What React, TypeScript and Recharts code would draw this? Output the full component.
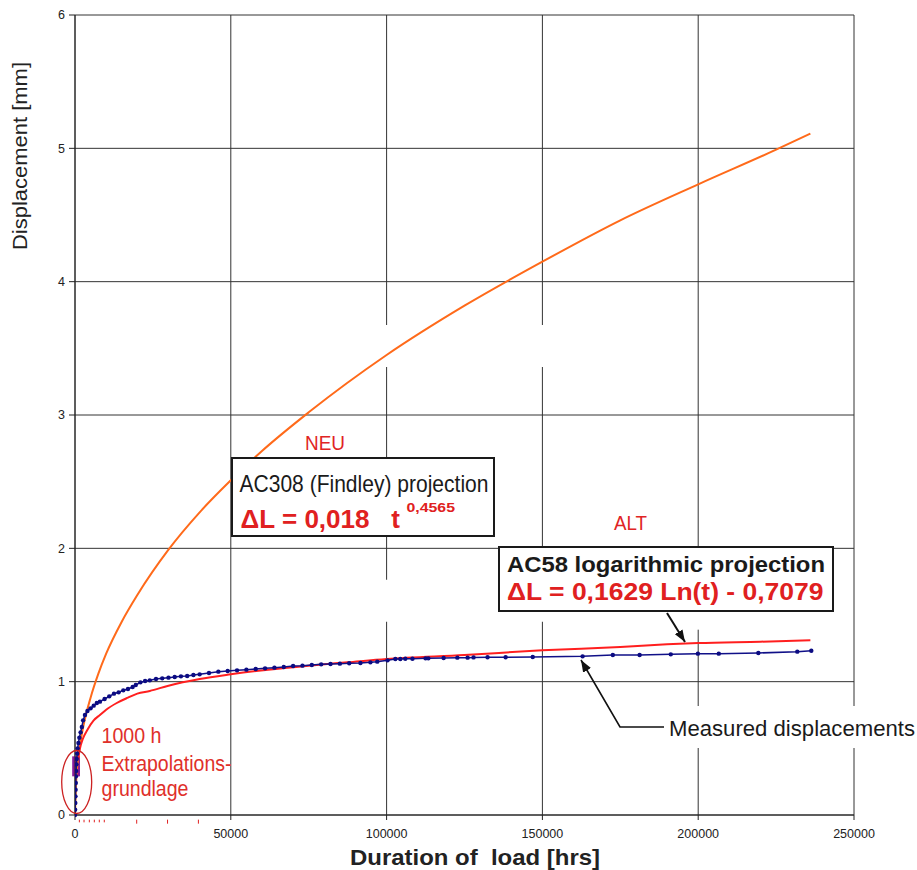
import React from 'react';
import {
  LineChart,
  Line,
  XAxis,
  YAxis,
  CartesianGrid,
  ReferenceArea,
  ReferenceLine
} from 'recharts';

const FONT = '"Liberation Sans", Arial, Helvetica, sans-serif';
const NARROW = '"Liberation Sans Narrow", "Arial Narrow", "Liberation Sans", Arial, sans-serif';

const xTicks = [0, 50000, 100000, 150000, 200000, 250000];
const yTicks = [0, 1, 2, 3, 4, 5, 6];

// AC308 (Findley) projection - orange curve
const findleyHours = [0, 500, 1000, 2000, 3000, 5000, 7500, 10000, 15000, 20000, 30000, 40000, 50000, 60000, 75000, 100000, 125000, 150000, 175000, 200000, 225000, 236000];
const findleyMm = [0, 0.31, 0.42, 0.58, 0.7, 0.88, 1.06, 1.21, 1.45, 1.65, 1.99, 2.27, 2.51, 2.73, 3.02, 3.45, 3.82, 4.15, 4.46, 4.73, 4.99, 5.11];

// AC58 logarithmic projection - red curve
const logHours = [1000, 1600, 2500, 4000, 6000, 8000, 10000, 13400, 17000, 20000, 24000, 30000, 40000, 50000, 62000, 75000, 87500, 100000, 125000, 150000, 175000, 190000, 200000, 220000, 236000];
const logMm = [0.42, 0.5, 0.57, 0.64, 0.71, 0.75, 0.79, 0.84, 0.88, 0.91, 0.93, 0.97, 1.02, 1.055, 1.09, 1.12, 1.145, 1.17, 1.2, 1.235, 1.26, 1.28, 1.29, 1.3, 1.31];

// measured displacements - navy points
const measuredHours = [
  0, 50, 100, 150, 200, 250, 300, 350, 450, 550, 700, 850, 1100, 1400, 1800, 2200, 2600, 3200, 4000, 5000,
  6000, 7000, 8000, 9500, 11000, 12500, 14000, 15500, 17000, 18500, 19500, 21000, 22500, 24000, 26000, 28000,
  30000, 32000, 34000, 36000, 38000, 40000, 43000, 46000, 49000, 52000, 55000, 58000, 61000, 64000, 67000,
  70000, 73000, 76000, 79000, 82000, 85000, 88000, 91600, 94800, 97000, 100300, 102800, 104400, 106000,
  108300, 112500, 113400, 118300, 122700, 126000, 127900, 132400, 138200, 146900, 162900, 172600, 181200,
  191200, 199900, 206600, 219300, 231800, 236300
];
const measuredMm = [
  0, 0.04, 0.09, 0.14, 0.19, 0.24, 0.29, 0.33, 0.38, 0.42, 0.46, 0.5, 0.54, 0.58, 0.62, 0.66, 0.71, 0.75, 0.78, 0.8,
  0.82, 0.84, 0.85, 0.87, 0.89, 0.91, 0.92, 0.935, 0.945, 0.96, 0.975, 0.995, 1.005, 1.01, 1.02, 1.025,
  1.03, 1.035, 1.04, 1.043, 1.05, 1.055, 1.065, 1.075, 1.08, 1.085, 1.09, 1.095, 1.1, 1.105, 1.11,
  1.118, 1.12, 1.125, 1.13, 1.132, 1.135, 1.138, 1.14, 1.145, 1.15, 1.16, 1.17, 1.17, 1.172,
  1.172, 1.175, 1.175, 1.178, 1.18, 1.18, 1.182, 1.183, 1.183, 1.185, 1.19, 1.2, 1.2,
  1.205, 1.21, 1.21, 1.215, 1.225, 1.232
];

// small red marks under the x axis
const redMarkHours = [1400, 2900, 4600, 6200, 7800, 9400, 19800, 29700, 39600];

const zip = (t: number[], v: number[]) => t.map((x, i) => ({ t: x, v: v[i] }));

const findleyData = zip(findleyHours, findleyMm);
const logData = zip(logHours, logMm);
const measuredData = zip(measuredHours, measuredMm);

const tickStyle = { fontSize: 12.5, fill: '#222', fontFamily: FONT };

export default function App() {
  return (
    <div style={{ position: 'absolute', left: 0, top: 0, width: 917, height: 870, background: '#fff' }}>
      <LineChart width={917} height={870} margin={{ top: 15, right: 63, bottom: 0, left: 0 }}>
        <CartesianGrid stroke="#333" strokeWidth={1} />
        <XAxis
          type="number"
          dataKey="t"
          domain={[0, 250000]}
          ticks={xTicks}
          height={55}
          tickSize={5}
          tickMargin={9}
          tick={tickStyle}
          stroke="#222"
          allowDataOverflow
        />
        <YAxis
          type="number"
          dataKey="v"
          domain={[0, 6]}
          ticks={yTicks}
          width={75}
          tickSize={6}
          tickMargin={4}
          tick={tickStyle}
          stroke="#222"
        />
        {/* white gaps in the grid, as in the original */}
        <ReferenceArea x1={97000} x2={153000} y1={3.36} y2={3.675} fill="#fff" fillOpacity={1} stroke="none" />
        <ReferenceArea x1={97000} x2={153000} y1={1.45} y2={1.765} fill="#fff" fillOpacity={1} stroke="none" />
        <ReferenceArea x1={195000} x2={205000} y1={1.39} y2={1.54} fill="#fff" fillOpacity={1} stroke="none" />
        {/* 1000 h base */}
        <ReferenceArea x1={-900} x2={1600} y1={0.29} y2={0.44} fill="#8b1a9b" fillOpacity={1} stroke="none" ifOverflow="visible" />
        {redMarkHours.map((h, i) => (
          <ReferenceLine
            key={h}
            segment={[{ x: h, y: -0.035 }, { x: h, y: i < 6 ? -0.055 : -0.065 }]}
            stroke="#e02020"
            strokeWidth={1}
            ifOverflow="visible"
          />
        ))}
        <Line
          data={findleyData}
          dataKey="v"
          type="monotone"
          stroke="#ff6a1a"
          strokeWidth={2}
          dot={false}
          activeDot={false}
          isAnimationActive={false}
        />
        <Line
          data={logData}
          dataKey="v"
          type="monotone"
          stroke="#ff1f1f"
          strokeWidth={2}
          dot={false}
          activeDot={false}
          isAnimationActive={false}
        />
        <Line
          data={measuredData}
          dataKey="v"
          type="linear"
          stroke="#101088"
          strokeWidth={1.5}
          dot={{ r: 2.2, fill: '#0b0b82', stroke: '#0b0b82', strokeWidth: 0 }}
          activeDot={false}
          isAnimationActive={false}
        />
      </LineChart>

      <svg
        width={917}
        height={870}
        style={{ position: 'absolute', left: 0, top: 0, pointerEvents: 'none' }}
      >
        <defs>
          <marker id="arrow" markerUnits="userSpaceOnUse" markerWidth={12} markerHeight={9} viewBox="0 0 12 9" refX={12} refY={4.5} orient="auto">
            <path d="M0,0 L12,4.5 L0,9 z" fill="#111" />
          </marker>
        </defs>

        {/* axis titles */}
        <text
          transform="translate(27,156) rotate(-90)"
          textAnchor="middle"
          fontFamily={FONT}
          fontSize={21}
          fill="#222"
          textLength={188}
          lengthAdjust="spacingAndGlyphs"
        >
          Displacement [mm]
        </text>
        <text
          x={350}
          y={865}
          fontFamily={FONT}
          fontSize={22}
          fontWeight="bold"
          fill="#222"
          textLength={250}
          lengthAdjust="spacingAndGlyphs"
          style={{ whiteSpace: 'pre' }}
        >
          {'Duration of  load [hrs]'}
        </text>

        {/* NEU / Findley box */}
        <text x={305} y={450} fontFamily={NARROW} fontSize={20} fill="#e02424" textLength={40} lengthAdjust="spacingAndGlyphs">NEU</text>
        <rect x={232} y={458} width={262} height={78} fill="#fff" stroke="#1a1a1a" strokeWidth={2} />
        <text x={239.5} y={491.5} fontFamily={NARROW} fontSize={24} fill="#1a1a1a" textLength={249} lengthAdjust="spacingAndGlyphs">
          AC308 (Findley) projection
        </text>
        <text x={240.5} y={528} fontFamily={FONT} fontSize={26} fontWeight="bold" fill="#e02020" textLength={159.5} lengthAdjust="spacingAndGlyphs" style={{ whiteSpace: 'pre' }}>
          {'ΔL = 0,018   t'}
        </text>
        <text x={406.5} y={511.5} fontFamily={FONT} fontSize={12} fontWeight="bold" fill="#e02020" textLength={48.5} lengthAdjust="spacingAndGlyphs">
          0,4565
        </text>

        {/* ALT / log box */}
        <text x={614} y={530} fontFamily={NARROW} fontSize={20} fill="#e02424" textLength={33} lengthAdjust="spacingAndGlyphs">ALT</text>
        <rect x={499} y={547} width={334} height={64} fill="#fff" stroke="#1a1a1a" strokeWidth={2} />
        <text x={507} y={571.5} fontFamily={FONT} fontSize={22} fontWeight="bold" fill="#1a1a1a" textLength={318} lengthAdjust="spacingAndGlyphs">
          AC58 logarithmic projection
        </text>
        <text x={507} y={600} fontFamily={FONT} fontSize={24} fontWeight="bold" fill="#e02020" textLength={316.5} lengthAdjust="spacingAndGlyphs">
          ΔL = 0,1629 Ln(t) - 0,7079
        </text>
        <line x1={667} y1={613} x2={685} y2={642} stroke="#111" strokeWidth={2} markerEnd="url(#arrow)" />

        {/* measured label */}
        <rect x={664} y={706} width={253} height={42} fill="#fff" />
        <polyline points="664,727 620,727 581,660" fill="none" stroke="#111" strokeWidth={1.6} markerEnd="url(#arrow)" />
        <text x={669} y={736} fontFamily={FONT} fontSize={22} fill="#1a1a1a" textLength={246} lengthAdjust="spacingAndGlyphs">
          Measured displacements
        </text>

        {/* 1000 h note */}
        <ellipse cx={76.7} cy={782} rx={15} ry={31.5} fill="none" stroke="#cc2222" strokeWidth={1.3} />
        <text x={101.5} y={742.5} fontFamily={NARROW} fontSize={22} fill="#e0302a" textLength={60} lengthAdjust="spacingAndGlyphs">1000 h</text>
        <text x={101.5} y={770.5} fontFamily={NARROW} fontSize={22} fill="#e0302a" textLength={130} lengthAdjust="spacingAndGlyphs">Extrapolations-</text>
        <text x={101.5} y={796} fontFamily={NARROW} fontSize={22} fill="#e0302a" textLength={87} lengthAdjust="spacingAndGlyphs">grundlage</text>
      </svg>
    </div>
  );
}
